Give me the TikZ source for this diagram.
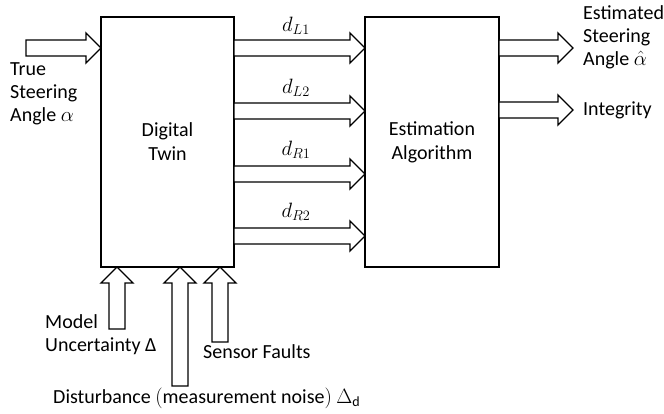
\documentclass[tikz,border=0pt]{standalone}
\usepackage{fontspec}
\setmainfont{Carlito}
\usepackage{amsmath}
\begin{document}
\begin{tikzpicture}[x=1pt,y=-1pt,
  blk/.style={draw=black,line width=1.4pt,fill=white,line join=miter},
  boxst/.style={draw=black,line width=1.4pt,minimum width=133pt,minimum height=250pt,inner sep=0pt,
    align=center,font=\fontsize{20}{24}\selectfont},
  lbl/.style={font=\fontsize{20}{23}\selectfont,inner sep=0pt,align=left},
  dl/.style={font=\fontsize{22}{24}\selectfont,inner sep=0pt}]
\useasboundingbox (0,0) rectangle (664,414);
% horizontal block arrow: from x #1 to tip x #2 at height #3
\newcommand\harrow[3]{\draw[blk] (#1,#3-8) -- (#2-15,#3-8) -- (#2-15,#3-15) -- (#2,#3)
  -- (#2-15,#3+15) -- (#2-15,#3+8) -- (#1,#3+8) -- cycle;}
% vertical block arrow: at x #1, from bottom #2 up to tip #3
\newcommand\varrow[3]{\draw[blk] (#1-8,#2) -- (#1-8,#3+16) -- (#1-16,#3+16) -- (#1,#3)
  -- (#1+16,#3+16) -- (#1+8,#3+16) -- (#1+8,#2) -- cycle;}

% blocks
\node[boxst] (twin) at (167.5,142) {Digital\\Twin};
\node[boxst,minimum width=134pt] (est) at (432,142) {Estimation\\Algorithm};

% input
\harrow{26}{101}{48}
\node[lbl,anchor=north west] (alpha) at (10,62) {True\\Steering\\Angle $\alpha$};

% signals between the blocks
\harrow{234}{365}{48}
\harrow{234}{365}{111}
\harrow{234}{365}{174}
\harrow{234}{365}{236}
\node[dl] (dl1) at (296,26) {$d_{L1}$};
\node[dl] (dl2) at (296,88) {$d_{L2}$};
\node[dl] (dr1) at (296,150) {$d_{R1}$};
\node[dl] (dr2) at (296,212) {$d_{R2}$};

% outputs
\harrow{499}{573}{48}
\harrow{499}{573}{110}
\node[lbl,anchor=north west] (ahat) at (583,5) {Estimated\\Steering\\Angle $\hat{\alpha}$};
\node[lbl,anchor=west] (integ) at (583,110) {Integrity};

% lower inputs
\varrow{117}{329}{267}
\varrow{180}{386}{267}
\varrow{220}{342}{267}
\node[lbl,anchor=north west] (model) at (45,314) {Model\\Uncertainty Δ};
\node[lbl,anchor=west] (sensor) at (203,352) {Sensor Faults};
\node[lbl,anchor=west] (dist) at (53,398) {Disturbance $\mathrm{(measurement\ noise)}\ \Delta_{\mathrm{d}}$};
\end{tikzpicture}
\end{document}
